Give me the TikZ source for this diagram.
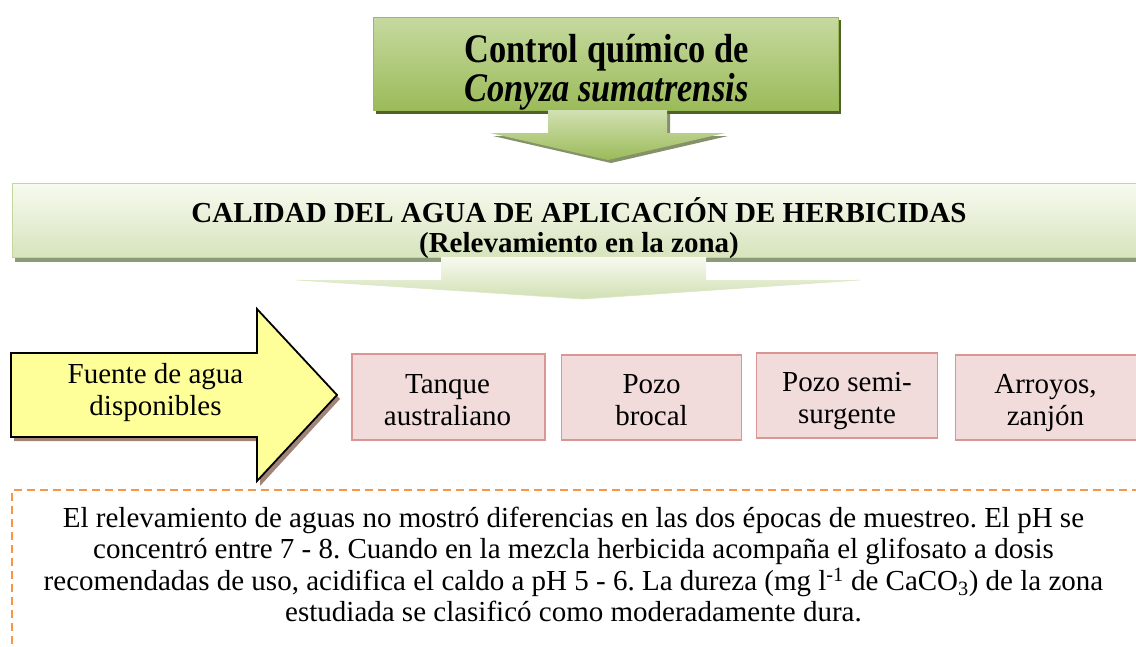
\documentclass[tikz,border=0pt]{standalone}
\usepackage{fontspec}
\setmainfont{Liberation Serif}
\usetikzlibrary{shadings}
\definecolor{gTop}{HTML}{C6D9A0}
\definecolor{gBot}{HTML}{9BBB59}
\definecolor{gEdge}{HTML}{9BBB59}
\definecolor{gShadow}{HTML}{4F6228}
\definecolor{lTop}{HTML}{F7FAF0}
\definecolor{lBot}{HTML}{D7E4BD}
\definecolor{lEdge}{HTML}{C3D69B}
\definecolor{lShadow}{HTML}{8C9A78}
\definecolor{yFill}{HTML}{FFFF99}
\definecolor{yShadow}{HTML}{A08478}
\definecolor{pFill}{HTML}{F2DCDB}
\definecolor{pEdge}{HTML}{D99694}
\definecolor{oDash}{HTML}{F79646}
\frenchspacing
\newcommand{\mylines}[1]{\begin{tabular}[t]{@{}c@{}}#1\end{tabular}}
\tikzset{
  pinkbox/.style={draw=pEdge, line width=1.6pt, fill=pFill, inner sep=0pt},
  plaintext/.style={inner sep=0pt, anchor=base},
  txt/.style={font=\fontsize{29}{32}\selectfont},
}
\begin{document}
\begin{tikzpicture}[x=1pt,y=-1pt]
\useasboundingbox (0,0) rectangle (1136,646);
\clip (0,0) rectangle (1136,646);
\fill[white] (0,0) rectangle (1136,646);

% ---------- top callout ----------
\fill[gShadow] (376,20) rectangle (841,114);
\fill[gShadow!70] (551,114) -- (670,114) -- (670,136) -- (728,136) -- (611,163) -- (493,136) -- (551,136) -- cycle;
\shade[top color=gTop, bottom color=gBot, draw=gEdge, line width=0.8pt] (373,17) rectangle (838,110);
\shade[top color=gTop!80!white, bottom color=gBot, draw=none]
  (548,110) -- (667,110) -- (667,133) -- (725,133) -- (608,160) -- (490,133) -- (548,133) -- cycle;
\node[plaintext, font=\fontsize{34.4}{32.5}\selectfont\bfseries] (title) at (606.5,62)
  {\scalebox{1}[1.18]{\mylines{Control químico de\\\textit{Conyza sumatrensis}}}};

% ---------- second callout ----------
\fill[lShadow] (15,187) rectangle (1140,262);
\shade[top color=lTop, bottom color=lBot, draw=lEdge, line width=0.8pt] (12,183) rectangle (1140,257);
\node[plaintext, font=\fontsize{29}{30}\selectfont\bfseries] (calidad) at (579,222)
  {\mylines{CALIDAD DEL AGUA DE APLICACIÓN DE HERBICIDAS\\(Relevamiento en la zona)}};
\shade[top color=lTop, bottom color=lBot!90!gBot, draw=none]
  (441,257) -- (706,257) -- (706,280) -- (860,280) -- (583,299) -- (297,280) -- (441,280) -- cycle;
\draw[lEdge!60!white, line width=0.6pt] (297,280) -- (583,299) -- (860,280);

% ---------- yellow arrow ----------
\fill[yShadow] (14,357) -- (260,357) -- (260,312) -- (340,399) -- (260,486) -- (260,441) -- (14,441) -- cycle;
\draw[black, line width=1.8pt, fill=yFill, line join=miter]
  (11,353) -- (257,353) -- (257,309) -- (337,395) -- (257,481) -- (257,437) -- (11,437) -- cycle;
\node[plaintext, txt] (fuente) at (155.5,383) {\mylines{Fuente de agua\\disponibles}};

% ---------- pink boxes ----------
\node[pinkbox, minimum width=193pt, minimum height=86pt] (tanque) at (448.5,397) {};
\node[pinkbox, minimum width=180pt, minimum height=85pt] (brocal) at (651.5,397.5) {};
\node[pinkbox, minimum width=181pt, minimum height=85pt] (semi) at (847,395.5) {};
\node[pinkbox, minimum width=186pt, minimum height=85pt] (arroyos) at (1048.5,397.5) {};
\node[plaintext, txt] (tanquetxt) at (447.5,393) {\mylines{Tanque\\australiano}};
\node[plaintext, txt] (brocaltxt) at (651.5,393) {\mylines{Pozo\\brocal}};
\node[plaintext, txt] (semitxt) at (847,391) {\mylines{Pozo semi-\\surgente}};
\node[plaintext, txt] (arroyostxt) at (1045.5,393) {\mylines{Arroyos,\\zanjón}};

% ---------- dashed text box ----------
\draw[oDash, line width=1.6pt, dash pattern=on 8pt off 5pt] (1140,490) -- (12,490) -- (12,650);
\node[plaintext, font=\fontsize{29}{31.5}\selectfont] (texto) at (573.5,527)
  {\mylines{El relevamiento de aguas no mostró diferencias en las dos épocas de muestreo. El pH se\\
   concentró entre 7 - 8. Cuando en la mezcla herbicida acompaña el glifosato a dosis\\
   recomendadas de uso, acidifica el caldo a pH 5 - 6. La dureza (mg l\textsuperscript{-1} de CaCO\textsubscript{3}) de la zona\\
   estudiada se clasificó como moderadamente dura.}};
\end{tikzpicture}
\end{document}
